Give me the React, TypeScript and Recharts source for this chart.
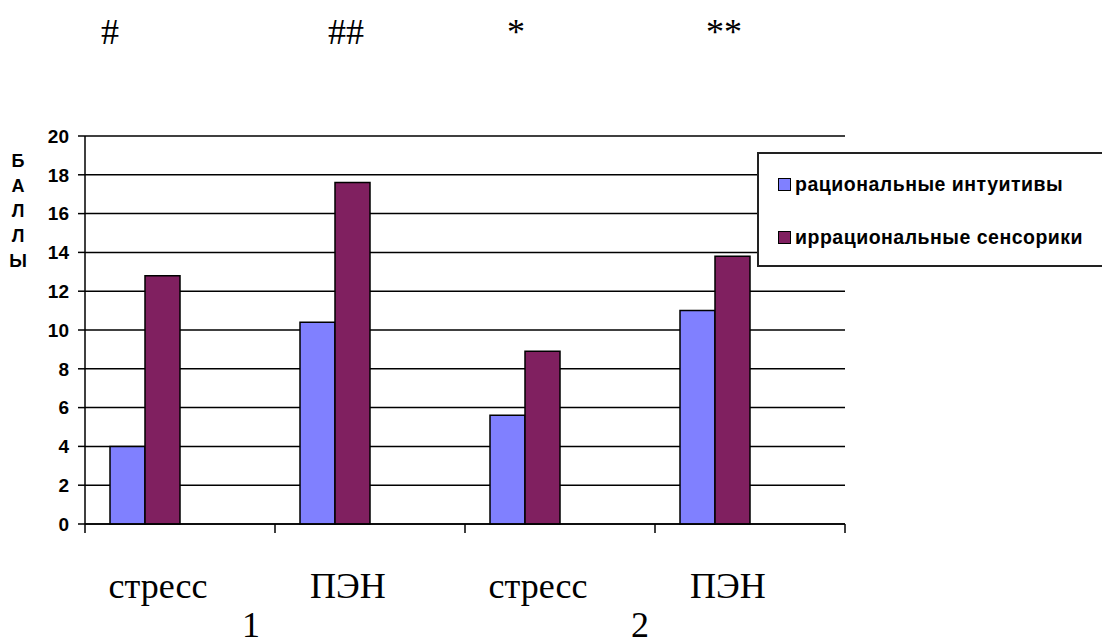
import { BarChart, Bar, XAxis, YAxis, CartesianGrid } from "recharts";

// значения по категориям (баллы)
const categories = ["стресс", "ПЭН", "стресс", "ПЭН"];
const rationalIntuitives = [4, 10.4, 5.6, 11];
const irrationalSensorics = [12.8, 17.6, 8.9, 13.8];
const seriesNames = ["рациональные интуитивы", "иррациональные сенсорики"];
const seriesColors = ["#8080FF", "#802060"];
const yTicks = [0, 2, 4, 6, 8, 10, 12, 14, 16, 18, 20];
const yLetters = ["Б", "А", "Л", "Л", "Ы"];
const groupLabels = ["1", "2"];
const marks = ["#", "##", "*", "**"];

const data = categories.map((name, i) => ({
  name,
  ri: rationalIntuitives[i],
  is: irrationalSensorics[i],
}));

const SANS = "'Liberation Sans', Arial, sans-serif";
const SERIF = "'Liberation Serif', 'Times New Roman', serif";

const W = 1102;
const H = 642;
const X_TICK = 9;

// подпись категории + засечки на границах категорий
const CategoryTick = ({ x, y, width, index, payload }: any) => {
  const half = width / categories.length / 2;
  const top = y - X_TICK;
  return (
    <g>
      <line x1={x - half} x2={x - half} y1={top} y2={y} stroke="#000" strokeWidth={1.5} />
      {index === categories.length - 1 && (
        <line x1={x + half} x2={x + half} y1={top} y2={y} stroke="#000" strokeWidth={1.5} />
      )}
      <text x={x - 22} y={y + 65} textAnchor="middle" fontFamily={SERIF} fontSize={36} fill="#000">
        {payload.value}
      </text>
    </g>
  );
};

export default function App() {
  return (
    <div style={{ position: "absolute", left: 0, top: 0, width: W, height: H, overflow: "hidden", background: "#fff" }}>
      <BarChart
        width={W}
        height={H}
        data={data}
        margin={{ top: 136, right: 257, bottom: 88, left: 0 }}
        barCategoryGap={25}
        barGap={0}
      >
        <CartesianGrid vertical={false} stroke="#000" strokeWidth={1.5} />
        <XAxis
          dataKey="name"
          height={30}
          tickLine={false}
          tickSize={X_TICK}
          tickMargin={0}
          axisLine={{ stroke: "#000", strokeWidth: 1.5 }}
          tick={<CategoryTick />}
          interval={0}
        />
        <YAxis
          width={85}
          domain={[0, 20]}
          ticks={yTicks}
          interval={0}
          tickSize={7}
          tickMargin={9}
          axisLine={{ stroke: "#000", strokeWidth: 1.5 }}
          tickLine={{ stroke: "#000", strokeWidth: 1.5 }}
          tick={{ fill: "#000", fontFamily: SANS, fontSize: 19, fontWeight: "bold" }}
        />
        <Bar dataKey="ri" name={seriesNames[0]} fill={seriesColors[0]} stroke="#000" strokeWidth={1.5} isAnimationActive={false} />
        <Bar dataKey="is" name={seriesNames[1]} fill={seriesColors[1]} stroke="#000" strokeWidth={1.5} isAnimationActive={false} />
        {/* пустые слоты, сдвигающие пару столбцов к левому краю категории */}
        <Bar dataKey="slot3" fill="none" legendType="none" isAnimationActive={false} />
        <Bar dataKey="slot4" fill="none" legendType="none" isAnimationActive={false} />
      </BarChart>

      {/* подпись оси Y по буквам */}
      {yLetters.map((ch, i) => (
        <div
          key={i}
          style={{
            position: "absolute",
            left: 8,
            top: 151 + i * 25,
            width: 20,
            textAlign: "center",
            font: `bold 18px ${SANS}`,
            lineHeight: "20px",
          }}
        >
          {ch}
        </div>
      ))}

      {/* значки над группами */}
      {marks.map((m, i) => (
        <div
          key={m}
          style={{
            position: "absolute",
            left: [110, 346, 516, 724][i] - 40,
            top: 12,
            width: 80,
            textAlign: "center",
            font: `36px ${SERIF}`,
            lineHeight: "40px",
          }}
        >
          {m}
        </div>
      ))}

      {/* номера групп */}
      {groupLabels.map((g, i) => (
        <div
          key={g}
          style={{
            position: "absolute",
            left: [251, 640][i] - 30,
            top: 609,
            width: 60,
            textAlign: "center",
            font: `36px ${SERIF}`,
            lineHeight: "32px",
          }}
        >
          {g}
        </div>
      ))}

      {/* легенда */}
      <div
        style={{
          position: "absolute",
          left: 757,
          top: 152,
          width: 360,
          height: 115,
          border: "2px solid #222",
          background: "#fff",
          boxSizing: "border-box",
        }}
      >
        {seriesNames.map((n, i) => (
          <div
            key={n}
            style={{
              position: "absolute",
              left: 19,
              top: 19 + i * 53,
              display: "flex",
              alignItems: "center",
              font: `bold 19.5px ${SANS}`,
              letterSpacing: "0.5px",
              whiteSpace: "nowrap",
            }}
          >
            <span
              style={{
                display: "inline-block",
                width: 11,
                height: 11,
                background: seriesColors[i],
                border: "1.5px solid #000",
                marginRight: 4,
              }}
            />
            {n}
          </div>
        ))}
      </div>
    </div>
  );
}
